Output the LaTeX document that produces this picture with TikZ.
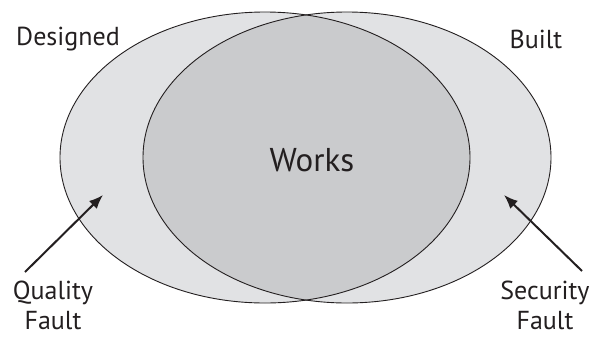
\documentclass[tikz,border=0pt]{standalone}
\usepackage{fontspec}
\setmainfont{PT Sans}
\usetikzlibrary{arrows.meta}
\definecolor{lightg}{HTML}{E1E2E4}
\definecolor{darkg}{HTML}{CACBCD}
\definecolor{inkc}{HTML}{231F20}
\tikzset{
  lbl/.style={text=inkc, font=\fontsize{26}{30}\selectfont, align=center, inner sep=0pt},
  pointer/.style={draw=inkc, line width=2pt, -{Latex[length=14pt,width=11pt]}},
  rim/.style={draw=inkc, line width=0.9pt}
}
\begin{document}
\begin{tikzpicture}[x=1pt,y=-1pt]
\useasboundingbox (0,0) rectangle (592,338);
% fills
\fill[lightg] (265,157.5) ellipse [x radius=205pt, y radius=145.5pt];
\fill[lightg] (347,157.5) ellipse [x radius=204pt, y radius=145.5pt];
\begin{scope}
\clip (265,157.5) ellipse [x radius=205pt, y radius=145.5pt];
\fill[darkg] (347,157.5) ellipse [x radius=204pt, y radius=145.5pt];
\end{scope}
% outlines
\draw[rim] (265,157.5) ellipse [x radius=205pt, y radius=145.5pt];
\draw[rim] (347,157.5) ellipse [x radius=204pt, y radius=145.5pt];
% labels
\node[lbl] (designed) at (68,39) {Designed};
\node[lbl] (built) at (536,39) {Built};
\node[lbl, font=\fontsize{33}{36}\selectfont] (works) at (312,160) {Works};
\node[lbl] (quality) at (53,305) {Quality\\Fault};
\node[lbl] (security) at (545,305) {Security\\Fault};
% arrows
\coordinate (qs) at (25,272);
\coordinate (qt) at (103,195);
\coordinate (ss) at (582,271);
\coordinate (st) at (504,195);
\draw[pointer] (qs) -- (qt);
\draw[pointer] (ss) -- (st);
\end{tikzpicture}
\end{document}
